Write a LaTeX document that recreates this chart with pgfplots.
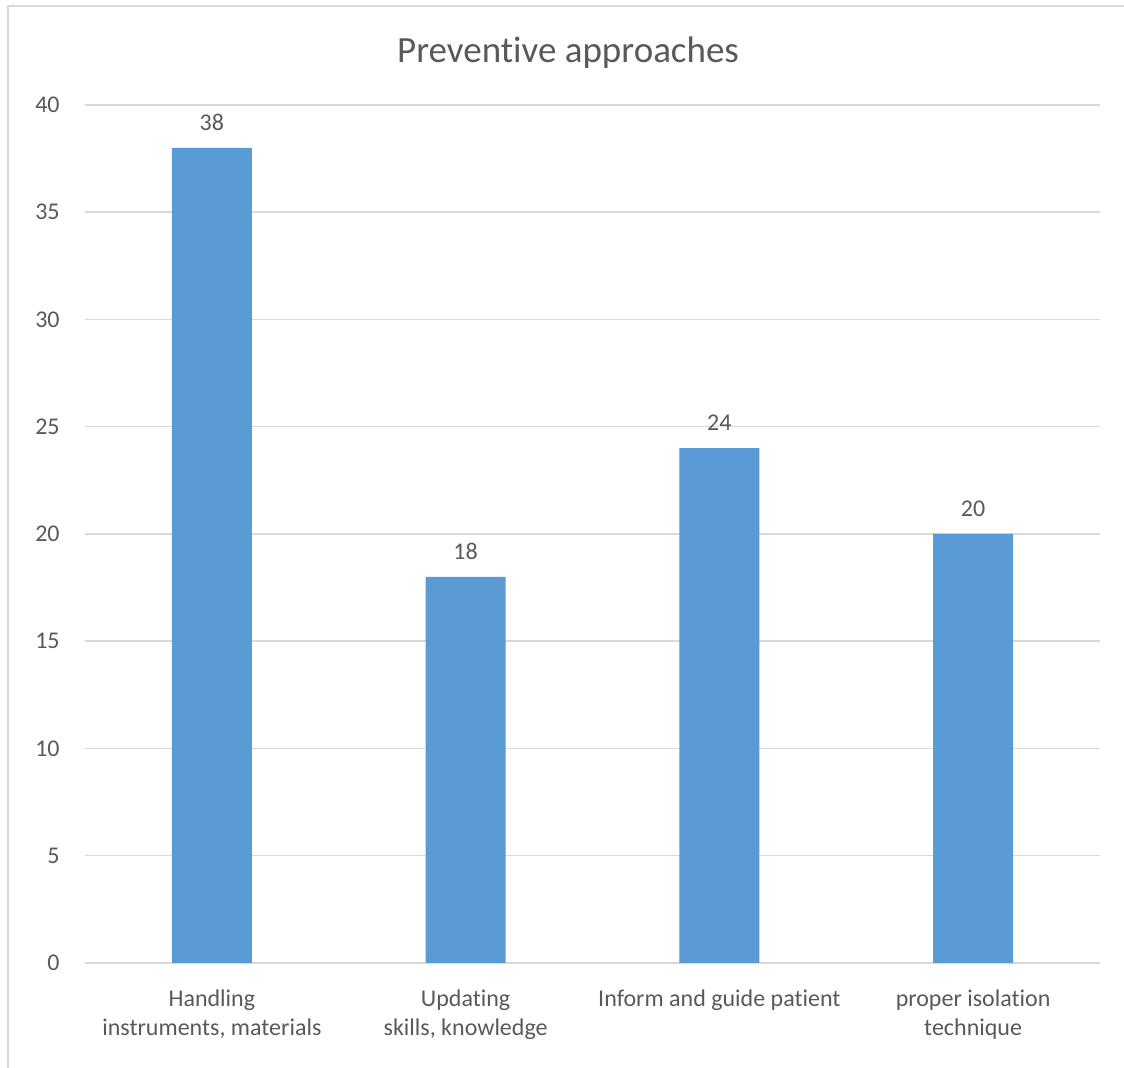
\documentclass[border=0pt]{standalone}
\usepackage{fontspec}
\setmainfont{Carlito}[Ligatures={NoCommon}]
\usepackage{pgfplots}
\pgfplotsset{compat=1.18}
\definecolor{barblue}{HTML}{5B9BD5}
\definecolor{gridgray}{HTML}{D9D9D9}
\definecolor{textgray}{HTML}{595959}
\begin{document}
\begin{tikzpicture}[x=1pt,y=1pt]
\useasboundingbox (0,0) rectangle (562,534);
% chart frame (left and top edges)
\draw[gridgray, line width=1pt] (3.75,0) -- (3.75,531) -- (562,531);
% chart title
\node[textgray, font=\fontsize{18.5}{22}\selectfont, anchor=base] at (284,502.6) {Preventive approaches};
\begin{axis}[
  at={(42.5pt,52.5pt)}, anchor=south west,
  scale only axis, width=507.5pt, height=429pt,
  xmin=-0.5, xmax=3.5, ymin=0, ymax=40,
  ytick={0,5,...,40},
  xtick={0,1,2,3},
  xticklabels={{Handling\\instruments, materials},{Updating\\skills, knowledge},{Inform and guide patient},{proper isolation\\technique}},
  axis line style={draw=none},
  major tick length=0pt,
  ymajorgrids,
  grid style={gridgray, line width=0.75pt},
  /pgf/number format/assume math mode=true,
  yticklabel style={font=\fontsize{12}{14.6}\selectfont, text=textgray, inner sep=0pt, anchor=east, xshift=-12.5pt},
  xticklabel style={font=\fontsize{12}{14.6}\selectfont, text=textgray, inner sep=0pt, anchor=north, align=center, yshift=-13pt},
  ybar, bar width=40pt,
  nodes near coords,
  every node near coord/.append style={font=\fontsize{12}{14.6}\selectfont, text=textgray, inner sep=0pt, anchor=south, yshift=8.5pt},
]
\addplot[fill=barblue, draw=none] coordinates {(0,38) (1,18) (2,24) (3,20)};
\end{axis}
\end{tikzpicture}
\end{document}
